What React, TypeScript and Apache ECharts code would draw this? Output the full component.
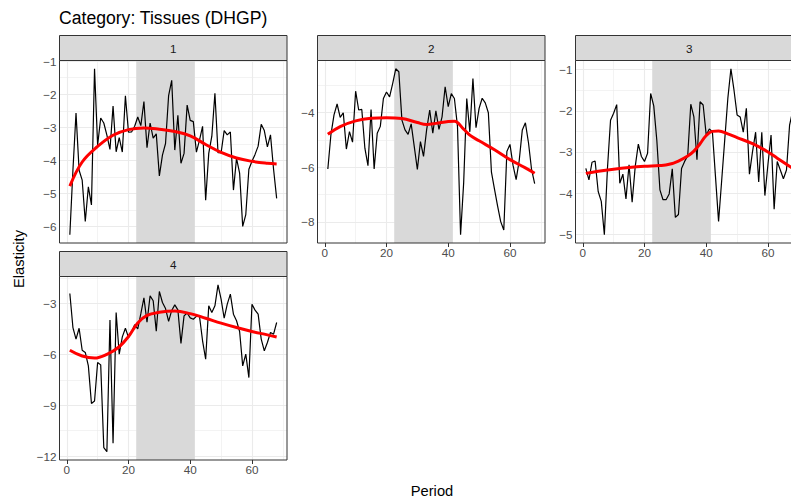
import { useEffect, useRef } from 'react';
import * as echarts from 'echarts';

// ---------- data ----------
const periods = [
  1, 2, 3, 4, 5, 6, 7, 8, 9, 10, 11, 12, 13, 14, 15, 16, 17, 18, 19, 20,
  21, 22, 23, 24, 25, 26, 27, 28, 29, 30, 31, 32, 33, 34, 35, 36, 37, 38, 39, 40,
  41, 42, 43, 44, 45, 46, 47, 48, 49, 50, 51, 52, 53, 54, 55, 56, 57, 58, 59, 60,
  61, 62, 63, 64, 65, 66, 67, 68,
];

const elasticity1 = [
  -6.25, -4.3, -2.57, -4.3, -4.6, -5.85, -4.8, -5.35, -1.23, -3.54,
  -2.72, -2.87, -3.24, -3.67, -2.36, -3.74, -3.31, -3.75, -2.05, -3.15,
  -3.14, -2.97, -2.69, -2.95, -2.22, -3.62, -2.87, -3.33, -3.2, -4.47,
  -3.84, -3.49, -2.04, -1.58, -3.69, -2.64, -4.09, -3.79, -2.33, -2.79,
  -2.83, -3.75, -3.39, -2.97, -5.21, -3.79, -3.27, -1.97, -3.77, -3.77,
  -3.1, -3.23, -3.14, -4.9, -3.94, -4.39, -6.0, -5.64, -4.27, -4.03,
  -3.82, -3.57, -2.91, -3.1, -3.59, -3.23, -4.27, -5.15,
];
const elasticity2 = [
  -6.06, -4.8, -4.08, -3.68, -4.17, -4.0, -5.33, -4.69, -5.08, -3.21,
  -3.9, -3.88, -5.3, -5.94, -3.88, -6.06, -4.75, -4.5, -3.48, -3.24,
  -3.42, -2.93, -2.39, -2.5, -4.27, -4.63, -4.79, -4.41, -5.24, -6.08,
  -5.06, -5.6, -4.63, -3.9, -4.75, -3.93, -4.61, -4.15, -3.05, -3.78,
  -3.3, -3.48, -4.5, -8.47, -6.57, -3.48, -4.7, -2.75, -4.55, -3.84,
  -3.47, -3.64, -4.0, -6.18, -6.81, -7.42, -7.99, -8.3, -5.42, -5.16,
  -5.93, -6.45, -5.75, -4.63, -4.37, -5.1, -6.08, -6.6,
];
const elasticity3 = [
  -3.4, -3.68, -3.25, -3.22, -3.96, -4.2, -5.01, -3.4, -2.23, -2.06,
  -1.85, -3.76, -3.54, -4.14, -3.31, -4.22, -3.35, -2.81, -3.11, -3.23,
  -3.03, -1.58, -1.88, -2.72, -3.92, -4.16, -4.16, -4.02, -3.41, -4.59,
  -4.52, -3.4, -3.23, -3.1, -1.84, -2.15, -3.19, -1.78, -1.86, -2.59,
  -2.44, -2.51, -3.6, -4.69, -3.7, -2.7, -1.7, -0.98, -1.5, -2.1,
  -2.15, -2.52, -1.94, -3.54, -2.99, -2.52, -3.73, -2.52, -4.06, -3.3,
  -2.59, -4.39, -3.23, -3.44, -3.65, -3.44, -2.35, -2.0,
];
const elasticity4 = [
  -2.41, -4.42, -5.1, -4.46, -5.76, -5.89, -6.68, -8.9, -8.75, -6.48,
  -6.62, -11.5, -11.74, -3.98, -11.25, -3.53, -5.99, -4.97, -4.46, -5.0,
  -4.7, -4.25, -4.5, -3.6, -2.67, -4.1, -2.55, -2.84, -4.63, -2.29,
  -2.94, -3.3, -4.06, -3.41, -3.08, -3.38, -5.35, -3.73, -3.56, -3.85,
  -3.93, -3.76, -3.75, -5.2, -6.29, -3.14, -3.53, -3.14, -1.9, -2.74,
  -3.87, -3.04, -2.45, -3.63, -4.02, -4.65, -6.68, -5.99, -7.37, -3.04,
  -3.39, -3.63, -5.1, -5.79, -5.3, -4.71, -4.81, -4.12,
];

const smoothPeriods1 = [1, 5, 10, 15, 20, 25, 30, 35, 40, 45, 50, 55, 60, 65, 68];
const smoothValues1 = [-4.78, -4.05, -3.58, -3.24, -3.07, -3.02, -3.06, -3.13, -3.26, -3.52, -3.76, -3.93, -4.03, -4.09, -4.11];
const smoothPeriods2 = [1, 5, 10, 15, 20, 25, 30, 33, 36, 40, 42, 45, 47, 50, 55, 60, 65, 68];
const smoothValues2 = [-4.79, -4.51, -4.3, -4.2, -4.18, -4.21, -4.36, -4.43, -4.39, -4.32, -4.31, -4.6, -4.82, -5.03, -5.36, -5.72, -6.02, -6.22];
const smoothPeriods3 = [1, 5, 10, 15, 20, 25, 28, 31, 34, 36, 38, 40, 42, 44, 47, 50, 55, 60, 63, 65, 68];
const smoothValues3 = [-3.52, -3.47, -3.42, -3.38, -3.35, -3.33, -3.3, -3.22, -3.1, -2.98, -2.8, -2.6, -2.5, -2.49, -2.56, -2.65, -2.8, -3.0, -3.15, -3.25, -3.4];
const smoothPeriods4 = [1, 5, 9, 13, 17, 20, 23, 26, 30, 35, 40, 45, 50, 55, 60, 65, 68];
const smoothValues4 = [-5.76, -6.1, -6.22, -6.0, -5.55, -4.95, -4.15, -3.7, -3.52, -3.45, -3.6, -3.87, -4.16, -4.42, -4.65, -4.85, -4.98];

const panelNames = ['1', '2', '3', '4'];
const xTicks = [0, 20, 40, 60];
const xMinorTicks = [10, 30, 50, 70];
const yTicks1 = [-6, -5, -4, -3, -2, -1];
const yMinorTicks1 = [-6.5, -5.5, -4.5, -3.5, -2.5, -1.5];
const yTicks2 = [-8, -6, -4];
const yMinorTicks2 = [-7, -5, -3];
const yTicks3 = [-5, -4, -3, -2, -1];
const yMinorTicks3 = [-4.5, -3.5, -2.5, -1.5];
const yTicks4 = [-12, -9, -6, -3];
const yMinorTicks4 = [-10.5, -7.5, -4.5, -1.5];
const shadedPeriods = [22.5, 41.5];

const titleText = 'Category: Tissues (DHGP)';
const xTitle = 'Period';
const yTitle = 'Elasticity';

// ---------- layout / style ----------
const FONT = "'Liberation Sans', Arial, Helvetica, sans-serif";
const CANVAS_W = 812; // the third panel runs past the 791px window, as in the reference
const layout = [
  { left: 59.5, top: 60.5, width: 227.5, height: 182.5, showX: false },
  { left: 317.5, top: 60.5, width: 227.5, height: 182.5, showX: true },
  { left: 575.5, top: 60.5, width: 227.5, height: 182.5, showX: true },
  { left: 59.5, top: 276.5, width: 227.5, height: 183.5, showX: true },
];
const STRIP_H = 25;

const panels = [
  { values: elasticity1, sx: smoothPeriods1, sy: smoothValues1, yTicks: yTicks1, yMinor: yMinorTicks1 },
  { values: elasticity2, sx: smoothPeriods2, sy: smoothValues2, yTicks: yTicks2, yMinor: yMinorTicks2 },
  { values: elasticity3, sx: smoothPeriods3, sy: smoothValues3, yTicks: yTicks3, yMinor: yMinorTicks3 },
  { values: elasticity4, sx: smoothPeriods4, sy: smoothValues4, yTicks: yTicks4, yMinor: yMinorTicks4 },
];

const fmt = (v: number) => String(v).replace('-', '\u2212');

function expand(lo: number, hi: number) {
  const d = (hi - lo) * 0.05;
  return [lo - d, hi + d];
}

function buildOption() {
  const [xLo, xHi] = expand(Math.min(...periods), Math.max(...periods));
  const grids: any[] = [];
  const xAxes: any[] = [];
  const yAxes: any[] = [];
  const series: any[] = [];
  const graphics: any[] = [];

  panels.forEach((p, i) => {
    const L = layout[i];
    const all = p.values.concat(p.sy);
    const [yLo, yHi] = expand(Math.min(...all), Math.max(...all));

    grids.push({
      left: L.left, top: L.top, width: L.width, height: L.height,
      show: true, backgroundColor: 'transparent', borderColor: '#333333', borderWidth: 1, z: 10,
      containLabel: false,
    });
    xAxes.push({
      type: 'value', gridIndex: i, min: xLo, max: xHi,
      axisLine: { show: false }, splitLine: { show: false },
      axisTick: { show: L.showX, customValues: xTicks, length: 4, lineStyle: { color: '#333333', width: 1 } },
      axisLabel: { show: L.showX, customValues: xTicks, margin: 3, color: '#4D4D4D', fontSize: 11.7, fontFamily: FONT, formatter: fmt },
    });
    yAxes.push({
      type: 'value', gridIndex: i, min: yLo, max: yHi,
      axisLine: { show: false }, splitLine: { show: false },
      axisTick: { show: true, customValues: p.yTicks, length: 4, lineStyle: { color: '#333333', width: 1 } },
      axisLabel: { show: true, customValues: p.yTicks, margin: 3, color: '#4D4D4D', fontSize: 11.7, fontFamily: FONT, formatter: fmt },
    });

    const major = [
      ...xTicks.filter((x) => x > xLo && x < xHi).map((x) => ({ coords: [[x, yLo], [x, yHi]] })),
      ...p.yTicks.filter((y) => y > yLo && y < yHi).map((y) => ({ coords: [[xLo, y], [xHi, y]] })),
    ];
    const minor = [
      ...xMinorTicks.filter((x) => x > xLo && x < xHi).map((x) => ({ coords: [[x, yLo], [x, yHi]] })),
      ...p.yMinor.filter((y) => y > yLo && y < yHi).map((y) => ({ coords: [[xLo, y], [xHi, y]] })),
    ];
    series.push({
      type: 'lines', coordinateSystem: 'cartesian2d', xAxisIndex: i, yAxisIndex: i,
      data: minor, lineStyle: { color: '#EBEBEB', width: 0.6, opacity: 1, curveness: 0 },
      silent: true, z: 1,
    });
    series.push({
      type: 'lines', coordinateSystem: 'cartesian2d', xAxisIndex: i, yAxisIndex: i,
      data: major, lineStyle: { color: '#EBEBEB', width: 1.1, opacity: 1, curveness: 0 },
      silent: true, z: 1,
    });
    series.push({
      type: 'line', xAxisIndex: i, yAxisIndex: i,
      data: [[shadedPeriods[0], yHi], [shadedPeriods[1], yHi]],
      symbol: 'none', lineStyle: { width: 0, opacity: 0 },
      areaStyle: { color: '#D9D9D9', opacity: 1, origin: 'start' },
      silent: true, z: 2,
    });
    series.push({
      type: 'line', xAxisIndex: i, yAxisIndex: i,
      data: periods.map((x, k) => [x, p.values[k]]),
      symbol: 'none', lineStyle: { color: '#000000', width: 1.2 },
      silent: true, z: 3,
    });
    series.push({
      type: 'line', xAxisIndex: i, yAxisIndex: i,
      data: p.sx.map((x, k) => [x, p.sy[k]]),
      smooth: 0.4, symbol: 'none', lineStyle: { color: '#FF0000', width: 3 },
      silent: true, z: 4,
    });

    graphics.push({
      type: 'rect', silent: true, z: 20,
      shape: { x: L.left, y: L.top - STRIP_H, width: L.width, height: STRIP_H },
      style: { fill: '#D9D9D9', stroke: '#333333', lineWidth: 1 },
    });
    graphics.push({
      type: 'text', silent: true, z: 21,
      x: L.left + L.width / 2, y: L.top - STRIP_H / 2,
      style: { text: panelNames[i], fill: '#1A1A1A', fontSize: 11.7, fontFamily: FONT, align: 'center', verticalAlign: 'middle' },
    });
  });

  graphics.push({
    type: 'text', silent: true, z: 21, x: 59, y: 18,
    style: { text: titleText, fill: '#000000', fontSize: 17.6, fontFamily: FONT, align: 'left', verticalAlign: 'middle' },
  });
  graphics.push({
    type: 'text', silent: true, z: 21, x: 432, y: 491,
    style: { text: xTitle, fill: '#000000', fontSize: 14.7, fontFamily: FONT, align: 'center', verticalAlign: 'middle' },
  });
  graphics.push({
    type: 'text', silent: true, z: 21, x: 19, y: 259, rotation: Math.PI / 2,
    style: { text: yTitle, fill: '#000000', fontSize: 14.7, fontFamily: FONT, align: 'center', verticalAlign: 'middle' },
  });

  return {
    animation: false,
    backgroundColor: '#FFFFFF',
    grid: grids,
    xAxis: xAxes,
    yAxis: yAxes,
    series,
    graphic: graphics,
  };
}

export default function App() {
  const ref = useRef<HTMLDivElement>(null);
  useEffect(() => {
    if (!ref.current) return;
    const chart = echarts.init(ref.current, null, { renderer: 'svg' });
    chart.setOption(buildOption() as any);
    return () => chart.dispose();
  }, []);
  return (
    <div style={{ position: 'absolute', left: 0, top: 0, width: 791, height: 501, overflow: 'hidden', background: '#FFFFFF' }}>
      <div ref={ref} style={{ width: CANVAS_W, height: 501 }} />
    </div>
  );
}
